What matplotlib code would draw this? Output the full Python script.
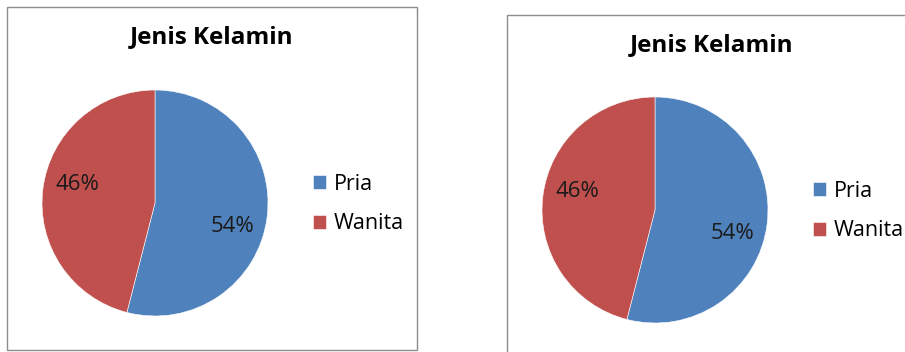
import numpy as np
import matplotlib.pyplot as plt
from matplotlib.patches import Rectangle

W, H = 905, 352
dpi = 100

title = "Jenis Kelamin"
labels = ["Pria", "Wanita"]
values = [54, 46]
colors = ["#4F81BD", "#C0504D"]

font = "Open Sans"

# chart boxes (pixels, top-left origin): frame, pie centre, radius, title centre, legend left/middle
charts = [
    dict(frame=(7, 7, 410, 343), center=(155, 203), r=113, title=(212, 37), legend=(313, 204)),
    dict(frame=(507, 15, 420, 360), center=(655, 210), r=113, title=(712, 45), legend=(813, 211)),
]


def fx(x):
    return x / W


def fy(y):
    return 1 - y / H


fig = plt.figure(figsize=(W / dpi, H / dpi), dpi=dpi)

for c in charts:
    x0, y0, w, h = c["frame"]
    fig.patches.append(Rectangle((fx(x0), fy(y0 + h)), w / W, h / H, transform=fig.transFigure,
                                 facecolor="none", edgecolor="#8c8c8c", linewidth=1.0, zorder=0))

    cx, cy = c["center"]
    r = c["r"]
    ax = fig.add_axes([fx(cx - r), fy(cy + r), 2 * r / W, 2 * r / H], zorder=2)
    wedges, texts, autotexts = ax.pie(values, colors=colors, startangle=90, counterclock=False,
                                      autopct="%1.0f%%", pctdistance=0.71, radius=1,
                                      wedgeprops=dict(edgecolor="white", linewidth=0.4),
                                      textprops=dict(fontsize=16, family=font, color="#1a1a1a"))
    # excel-like label placement: a bit clockwise from the wedge middle
    for wd, t in zip(wedges, autotexts):
        ang = np.deg2rad((wd.theta1 + wd.theta2) / 2 - 8)
        t.set_position((0.71 * np.cos(ang), 0.71 * np.sin(ang) - 0.025))
    ax.set_xlim(-1, 1)
    ax.set_ylim(-1, 1)
    ax.set_aspect("equal")
    ax.axis("off")

    tx, ty = c["title"]
    fig.text(fx(tx), fy(ty), title, ha="center", va="center", fontsize=17.5,
             fontweight="bold", family=font)

    lx, ly = c["legend"]
    leg = fig.legend(wedges, labels, loc="center left", bbox_to_anchor=(fx(lx), fy(ly)),
                     frameon=False, prop=dict(family=font, size=15.5), handlelength=0.62,
                     handleheight=0.62, handletextpad=0.35, labelspacing=0.85, borderpad=0,
                     borderaxespad=0)

plt.savefig("out.png", dpi=dpi)
